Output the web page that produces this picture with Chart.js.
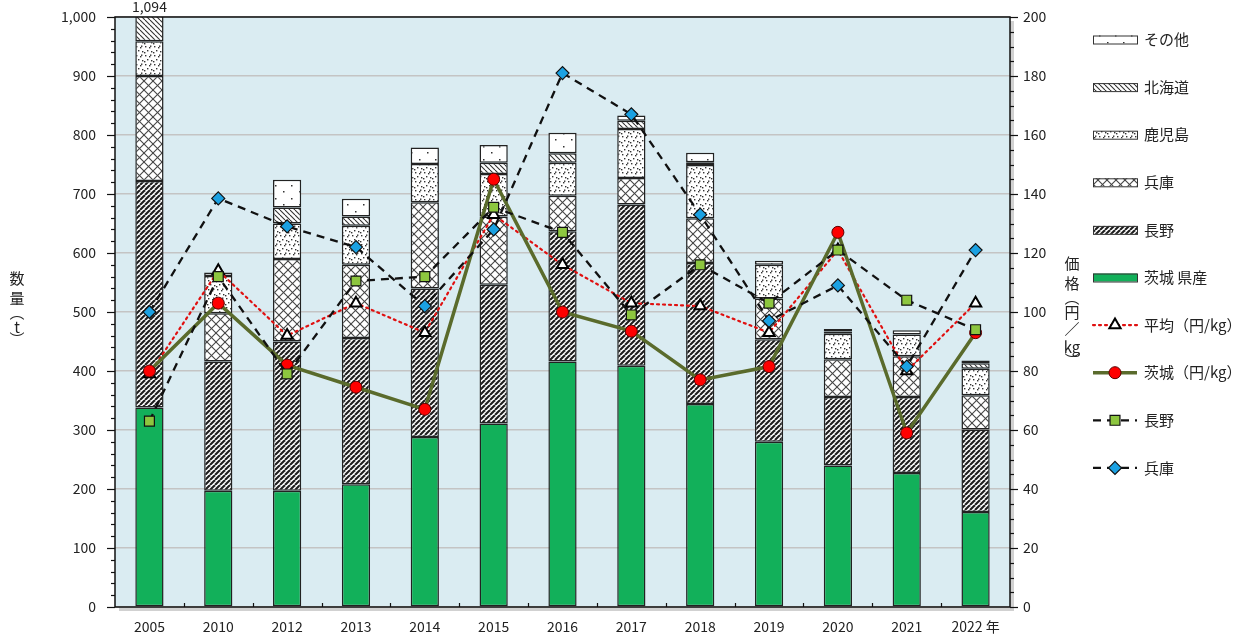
<!DOCTYPE html>
<html>
<head>
<meta charset="utf-8">
<script src="https://cdn.jsdelivr.net/npm/chart.js@4.4.1/dist/chart.umd.min.js"></script>
<style>
  html, body { margin: 0; padding: 0; background: #ffffff; }
  #wrap { width: 1240px; height: 637px; position: relative; }
</style>
</head>
<body>
<div id="wrap"><canvas id="c" width="1240" height="637"></canvas></div>
<script>
// ---- data ----
const categories = ['2005','2010','2012','2013','2014','2015','2016','2017','2018','2019','2020','2021','2022 年'];
const ibaraki   = [338,197,197,208,288,311,416,409,344,280,240,227,161];
const nagano    = [384,219,253,248,252,235,221,273,239,174,116,129,140];
const hyogo     = [178, 82,140,124,146,116, 60, 45, 76, 69, 64, 69, 58];
const kagoshima = [ 59, 63, 60, 66, 65, 72, 56, 83, 90, 57, 43, 37, 45];
const hokkaido  = [ 62,  0, 27, 16,  0, 19, 16, 14,  5,  0,  4,  0,  9];
const other     = [ 73,  6, 47, 30, 28, 30, 35,  9, 16,  7,  4,  7,  5];

const avgPrice     = [79,114,92,103,93,133,116,103,102,93,121,80,103];
const ibarakiPrice = [80,103,82,74.5,67,145,100,93.5,77,81.5,127,59,93];
const naganoPrice  = [63,112,79,110.5,112,135.5,127,99,116,103,121,104,94];
const hyogoPrice   = [100,138.5,129,122,102,128,181,167,133,97,109,81.5,121];

const leftTicks = [0,100,200,300,400,500,600,700,800,900,1000];
const rightTicks = [0,20,40,60,80,100,120,140,160,180,200];

const FONT = "'Noto Sans CJK JP', 'Noto Sans', sans-serif";

// ---- patterns ----
function makePattern(w, h, draw) {
  const c = document.createElement('canvas');
  c.width = w; c.height = h;
  const g = c.getContext('2d');
  g.fillStyle = '#ffffff';
  g.fillRect(0, 0, w, h);
  draw(g, w, h);
  return g.createPattern(c, 'repeat');
}
const patNagano = makePattern(5, 5, (g, w, h) => {
  g.strokeStyle = '#1e1e1e'; g.lineWidth = 2.1;
  for (let k = -1; k <= 1; k++) {
    g.beginPath(); g.moveTo(k * w, h); g.lineTo(k * w + w, 0); g.stroke();
  }
});
const patHokkaido = makePattern(5, 5, (g, w, h) => {
  g.strokeStyle = '#333'; g.lineWidth = 1.1;
  for (let k = -1; k <= 1; k++) {
    g.beginPath(); g.moveTo(k * w, 0); g.lineTo(k * w + w, h); g.stroke();
  }
});
const patHyogo = makePattern(9, 9, (g, w, h) => {
  g.strokeStyle = '#444'; g.lineWidth = 1.1;
  for (let k = -1; k <= 1; k++) {
    g.beginPath(); g.moveTo(k * w, 0); g.lineTo(k * w + w, h); g.stroke();
    g.beginPath(); g.moveTo(k * w, h); g.lineTo(k * w + w, 0); g.stroke();
  }
});
const patKagoshima = makePattern(9, 9, (g) => {
  g.fillStyle = '#333';
  [[1,1],[5,2],[3,5],[7,6],[0,7],[6,0.5]].forEach(p => g.fillRect(p[0], p[1], 1.4, 1.4));
});
const patOther = makePattern(16, 13, (g) => {
  g.fillStyle = '#333';
  [[3,3],[11,9]].forEach(p => g.fillRect(p[0], p[1], 1.5, 1.5));
});

const GREEN = '#12B05A';
const BORDER = '#222';

function barDs(label, data, bg) {
  return { type: 'bar', label, data, backgroundColor: bg, borderColor: BORDER, borderWidth: 1.5,
           borderSkipped: false, yAxisID: 'y', order: 10, stack: 's' };
}

const datasets = [
  barDs('茨城 県産', ibaraki, GREEN),
  barDs('長野', nagano, patNagano),
  barDs('兵庫', hyogo, patHyogo),
  barDs('鹿児島', kagoshima, patKagoshima),
  barDs('北海道', hokkaido, patHokkaido),
  barDs('その他', other, patOther),
  { type: 'line', label: '平均（円/kg）', data: avgPrice, yAxisID: 'y2', order: 4,
    borderColor: '#E01010', borderWidth: 2.2, borderDash: [2, 4], borderCapStyle: 'round',
    pointStyle: 'triangle', pointRadius: 6.5, pointBackgroundColor: '#ffffff', pointBorderColor: '#000',
    pointBorderWidth: 2, tension: 0 },
  { type: 'line', label: '茨城（円/kg）', data: ibarakiPrice, yAxisID: 'y2', order: 3,
    borderColor: '#5A6B2C', borderWidth: 3.5,
    pointStyle: 'circle', pointRadius: 6, pointBackgroundColor: '#FF0000', pointBorderColor: '#5a0000',
    pointBorderWidth: 1, tension: 0 },
  { type: 'line', label: '長野', data: naganoPrice, yAxisID: 'y2', order: 2,
    borderColor: '#111', borderWidth: 2.3, borderDash: [8, 6],
    pointStyle: 'rect', pointRadius: 7, pointBackgroundColor: '#8DC63F', pointBorderColor: '#111',
    pointBorderWidth: 1.2, tension: 0 },
  { type: 'line', label: '兵庫', data: hyogoPrice, yAxisID: 'y2', order: 1,
    borderColor: '#111', borderWidth: 2.3, borderDash: [8, 6],
    pointStyle: 'rectRot', pointRadius: 6.5, pointBackgroundColor: '#1BA1E2', pointBorderColor: '#111',
    pointBorderWidth: 1.2, tension: 0 }
];

// ---- plugins ----
const bgPlugin = {
  id: 'bg',
  beforeDraw(chart) {
    const { ctx, chartArea: a } = chart;
    ctx.save();
    ctx.fillStyle = 'rgba(0,0,0,0.18)';
    ctx.fillRect(a.left + 4, a.top + 4, a.right - a.left, a.bottom - a.top);
    ctx.fillStyle = '#DAECF2';
    ctx.fillRect(a.left, a.top, a.right - a.left, a.bottom - a.top);
    ctx.restore();
  }
};

function drawMarker(ctx, d, cx, cy) {
  ctx.fillStyle = d.pointBackgroundColor;
  ctx.strokeStyle = d.pointBorderColor;
  ctx.lineWidth = d.pointBorderWidth;
  ctx.beginPath();
  const r = d.pointRadius;
  if (d.pointStyle === 'circle') { ctx.arc(cx, cy, r, 0, Math.PI * 2); }
  else if (d.pointStyle === 'rect') { const s = r * Math.SQRT1_2; ctx.rect(cx - s, cy - s, 2 * s, 2 * s); }
  else if (d.pointStyle === 'rectRot') { ctx.moveTo(cx, cy - r); ctx.lineTo(cx + r, cy); ctx.lineTo(cx, cy + r); ctx.lineTo(cx - r, cy); ctx.closePath(); }
  else if (d.pointStyle === 'triangle') {
    const a1 = -Math.PI / 2;
    ctx.moveTo(cx + Math.cos(a1) * r, cy + Math.sin(a1) * r);
    ctx.lineTo(cx + Math.cos(a1 + 2 * Math.PI / 3) * r, cy + Math.sin(a1 + 2 * Math.PI / 3) * r);
    ctx.lineTo(cx + Math.cos(a1 + 4 * Math.PI / 3) * r, cy + Math.sin(a1 + 4 * Math.PI / 3) * r);
    ctx.closePath();
  }
  ctx.fill(); ctx.stroke();
}

const decoPlugin = {
  id: 'deco',
  afterDatasetsDraw(chart) {
    const { ctx, chartArea: a, scales } = chart;
    ctx.save();
    ctx.strokeStyle = '#111';
    ctx.lineWidth = 1.5;
    ctx.strokeRect(a.left, a.top, a.right - a.left, a.bottom - a.top);
    const y = scales.y, y2 = scales.y2;
    ctx.lineWidth = 1.2;
    for (let v = 0; v <= 1000; v += 20) {
      const py = Math.round(y.getPixelForValue(v)) + 0.5;
      const len = (v % 100 === 0) ? 8 : 4;
      ctx.beginPath(); ctx.moveTo(a.left - len, py); ctx.lineTo(a.left, py); ctx.stroke();
    }
    for (let v = 0; v <= 200; v += 5) {
      const py = Math.round(y2.getPixelForValue(v)) + 0.5;
      const len = (v % 20 === 0) ? 8 : 4;
      ctx.beginPath(); ctx.moveTo(a.right, py); ctx.lineTo(a.right + len, py); ctx.stroke();
    }
    const n = categories.length;
    const cw = (a.right - a.left) / n;
    for (let i = 1; i < n; i++) {
      const px = Math.round(a.left + i * cw) + 0.5;
      ctx.beginPath(); ctx.moveTo(px, a.bottom); ctx.lineTo(px, a.bottom - 4); ctx.stroke();
    }
    ctx.restore();
  },
  afterDraw(chart) {
    const { ctx, chartArea: a, scales } = chart;
    ctx.save();
    const total0 = ibaraki[0] + nagano[0] + hyogo[0] + kagoshima[0] + hokkaido[0] + other[0];
    const bx = scales.x.getPixelForValue(0);
    ctx.font = '14px ' + FONT;
    ctx.textAlign = 'center'; ctx.textBaseline = 'middle';
    const txt = total0.toLocaleString('en-US');
    ctx.fillStyle = '#222';
    ctx.fillText(txt, bx, 7);

    ctx.font = '15px ' + FONT;
    const leftChars = [['数', 278], ['量', 298], ['︵', 312], ['t', 327], ['︶', 339]];
    leftChars.forEach(c => ctx.fillText(c[0], 17, c[1]));
    const rightChars = [['価', 263], ['格', 283], ['︵', 297], ['円', 312], ['／', 329], ['kg', 347], ['︶', 360]];
    rightChars.forEach(c => ctx.fillText(c[0], 1072, c[1]));

    const items = [
      { t: 'その他', fill: patOther },
      { t: '北海道', fill: patHokkaido },
      { t: '鹿児島', fill: patKagoshima },
      { t: '兵庫', fill: patHyogo },
      { t: '長野', fill: patNagano },
      { t: '茨城 県産', fill: GREEN },
      { t: '平均（円/kg）', ds: 6 },
      { t: '茨城（円/kg）', ds: 7 },
      { t: '長野', ds: 8 },
      { t: '兵庫', ds: 9 }
    ];
    const x0 = 1093, x1 = 1137;
    items.forEach((it, i) => {
      const cy = 39.5 + i * 47.6;
      if (it.fill) {
        ctx.fillStyle = it.fill;
        ctx.fillRect(x0, cy - 4, x1 - x0, 8);
        ctx.strokeStyle = '#333'; ctx.lineWidth = 1;
        ctx.strokeRect(x0 + 0.5, cy - 4 + 0.5, x1 - x0, 8);
      } else {
        const d = chart.data.datasets[it.ds];
        ctx.save();
        ctx.strokeStyle = d.borderColor;
        ctx.lineWidth = d.borderWidth;
        ctx.setLineDash(d.borderDash || []);
        ctx.lineCap = d.borderCapStyle || 'butt';
        ctx.beginPath(); ctx.moveTo(x0, cy); ctx.lineTo(x1, cy); ctx.stroke();
        ctx.setLineDash([]);
        drawMarker(ctx, d, (x0 + x1) / 2, cy);
        ctx.restore();
      }
      ctx.fillStyle = '#222';
      ctx.font = '15px ' + FONT;
      ctx.textAlign = 'left'; ctx.textBaseline = 'middle';
      ctx.fillText(it.t, 1144, cy);
    });
    ctx.restore();
  }
};

new Chart(document.getElementById('c'), {
  data: { labels: categories, datasets },
  options: {
    responsive: false,
    animation: false,
    layout: { padding: { top: 17, right: 0, left: 0, bottom: 0 } },
    plugins: { legend: { display: false }, tooltip: { enabled: false } },
    scales: {
      x: {
        stacked: true,
        grid: { display: false, drawTicks: false },
        border: { display: false },
        ticks: { color: '#222', font: { family: FONT, size: 14 }, padding: 11, maxRotation: 0, autoSkip: false },
        afterFit(s) { s.height = 30; s.paddingLeft = 0; s.paddingRight = 0; }
      },
      y: {
        position: 'left', stacked: true, min: 0, max: 1000,
        afterBuildTicks(s) { s.ticks = leftTicks.map(v => ({ value: v })); },
        grid: { color: '#C4C4C4', lineWidth: 1.5, drawTicks: false },
        border: { display: false },
        ticks: { color: '#222', font: { family: FONT, size: 14 }, padding: 19,
                 callback: v => v.toLocaleString('en-US') },
        afterFit(s) { s.width = 115; s.paddingTop = 0; s.paddingBottom = 0; }
      },
      y2: {
        position: 'right', stacked: false, min: 0, max: 200,
        afterBuildTicks(s) { s.ticks = rightTicks.map(v => ({ value: v })); },
        grid: { drawOnChartArea: false, drawTicks: false },
        border: { display: false },
        ticks: { color: '#222', font: { family: FONT, size: 14 }, padding: 13 },
        afterFit(s) { s.width = 230; s.paddingTop = 0; s.paddingBottom = 0; }
      }
    },
    datasets: { bar: { categoryPercentage: 1, barPercentage: 0.41 } }
  },
  plugins: [bgPlugin, decoPlugin]
});
</script>
</body>
</html>
